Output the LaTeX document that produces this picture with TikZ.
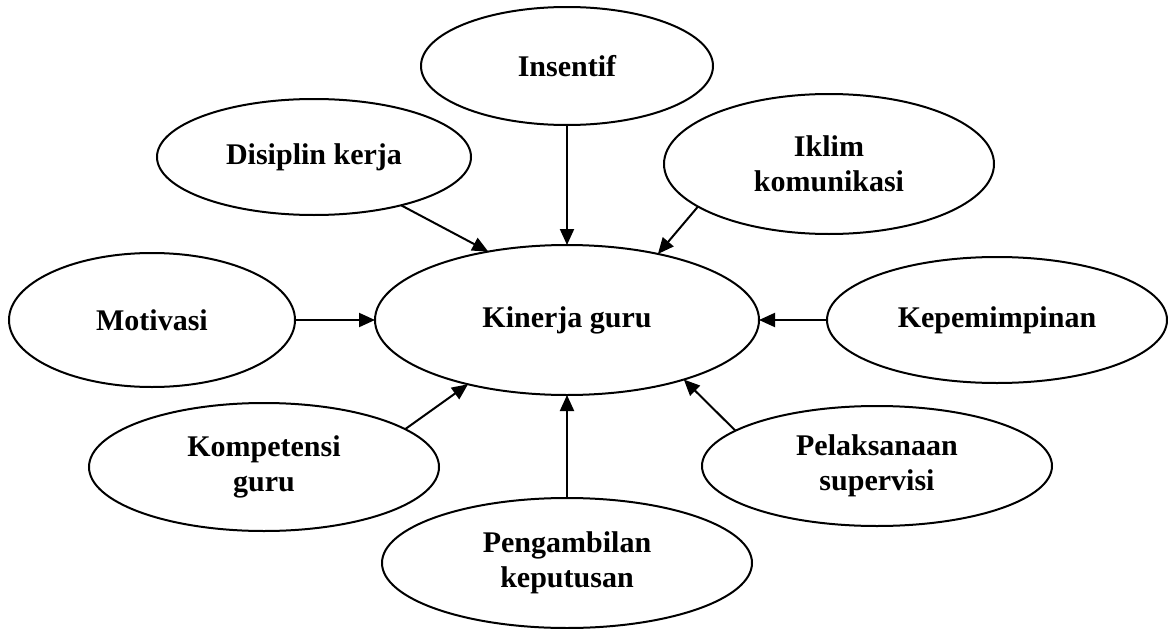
\documentclass[tikz,border=0pt]{standalone}
\usepackage{fontspec}
\setmainfont{Liberation Serif}
\usetikzlibrary{arrows.meta}
\usetikzlibrary{shapes.geometric}

\begin{document}
\begin{tikzpicture}[x=1pt,y=-1pt,
    every node/.style={font=\bfseries\fontsize{30}{35}\selectfont},
    oval/.style={ellipse,draw,line width=2pt,inner sep=0pt,outer sep=0pt,align=center},
    arr/.style={-{Triangle[length=16pt,width=14pt]},line width=2pt}]

    % page frame
    \useasboundingbox (0,0) rectangle (1168,629);

    % centre
    \node[oval,minimum width=384pt,minimum height=150pt] (kinerja) at (567,320) {Kinerja guru};

    % factors round it
    \node[oval,minimum width=292pt,minimum height=118pt] (insentif) at (567,66) {Insentif};
    \node[oval,minimum width=314pt,minimum height=116pt] (disiplin) at (314,157) {Disiplin kerja};
    \node[oval,minimum width=330pt,minimum height=140pt] (iklim) at (829,164) {Iklim\\komunikasi};
    \node[oval,minimum width=286pt,minimum height=134pt] (motivasi) at (152,320) {Motivasi};
    \node[oval,minimum width=340pt,minimum height=126pt] (kepemimpinan) at (997,320) {Kepemimpinan};
    \node[oval,minimum width=350pt,minimum height=128pt] (kompetensi) at (264,467) {Kompetensi\\guru};
    \node[oval,minimum width=370pt,minimum height=130pt] (pengambilan) at (567,563) {Pengambilan\\keputusan};
    \node[oval,minimum width=350pt,minimum height=120pt] (pelaksanaan) at (877,466) {Pelaksanaan\\supervisi};

    % arrows into the centre
    \draw[arr] (disiplin.-29) -- (kinerja.139);
    \draw[arr] (insentif.south) -- (kinerja.north);
    \draw[arr] (iklim.198) -- (kinerja.36);
    \draw[arr] (motivasi.east) -- (kinerja.west);
    \draw[arr] (kepemimpinan.west) -- (kinerja.east);
    \draw[arr] (kompetensi.15) -- (kinerja.213);
    \draw[arr] (pengambilan.north) -- (kinerja.south);
    \draw[arr] (pelaksanaan.166) -- (kinerja.-27);

\end{tikzpicture}
\end{document}
